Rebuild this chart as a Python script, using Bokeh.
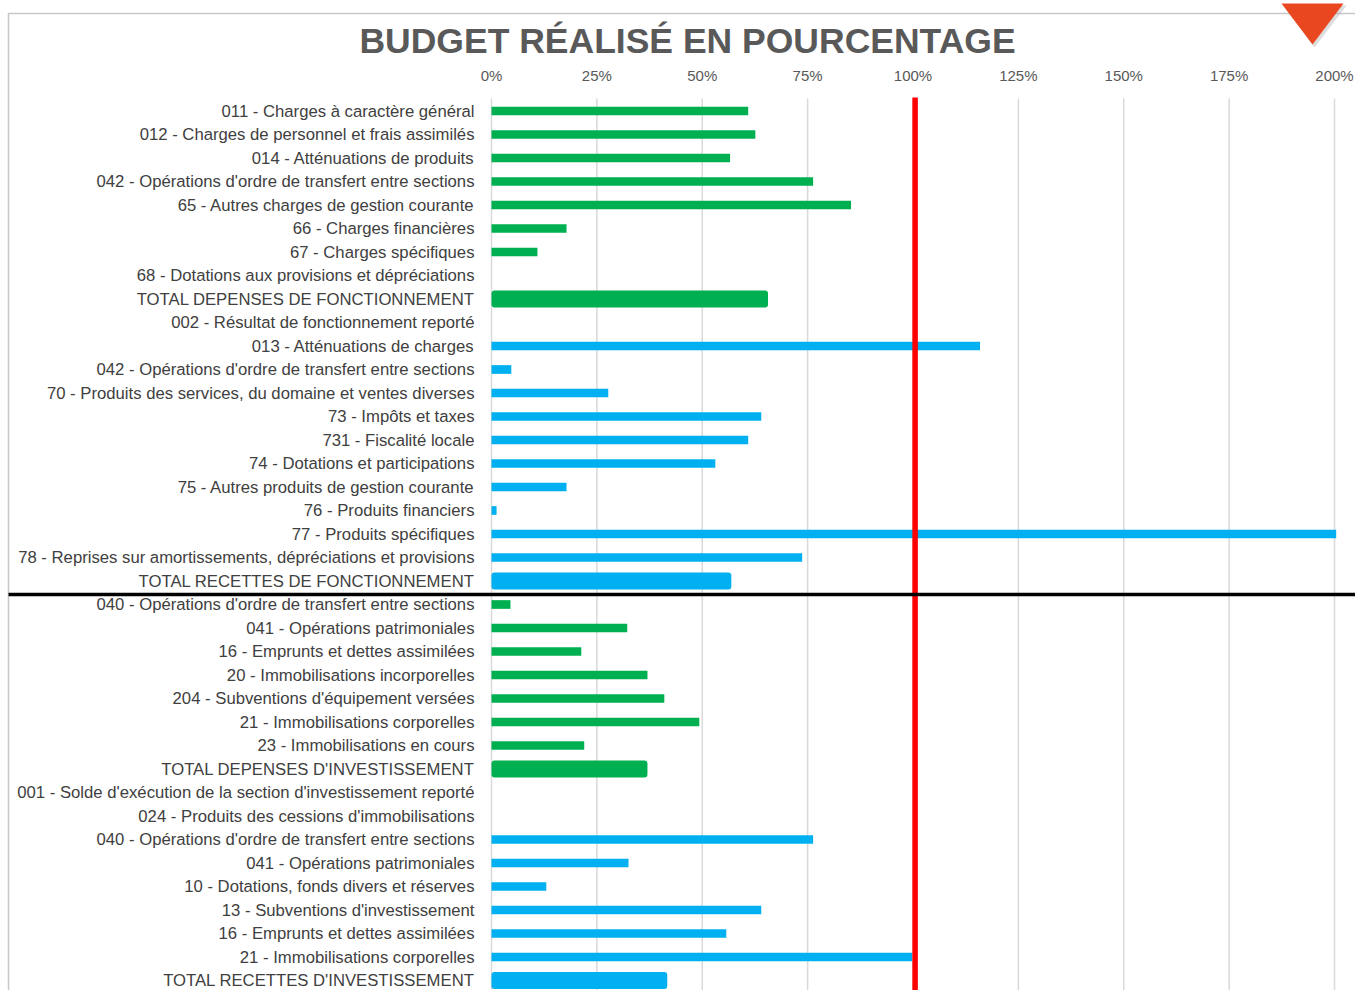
from bokeh.plotting import figure
from bokeh.models import (Range1d, FixedTicker, PrintfTickFormatter, LinearAxis,
                          BoxAnnotation, PolyAnnotation, Label, ColumnDataSource)
from bokeh.embed import file_html
from bokeh.resources import INLINE

# ---------------- data ----------------
categories = [
    "011 - Charges à caractère général",
    "012 - Charges de personnel et frais assimilés",
    "014 - Atténuations de produits",
    "042 - Opérations d'ordre de transfert entre sections",
    "65 - Autres charges de gestion courante",
    "66 - Charges financières",
    "67 - Charges spécifiques",
    "68 - Dotations aux provisions et dépréciations",
    "TOTAL DEPENSES DE FONCTIONNEMENT",
    "002 - Résultat de fonctionnement reporté",
    "013 - Atténuations de charges",
    "042 - Opérations d'ordre de transfert entre sections",
    "70 - Produits des services, du domaine et ventes diverses",
    "73 - Impôts et taxes",
    "731 - Fiscalité locale",
    "74 - Dotations et participations",
    "75 - Autres produits de gestion courante",
    "76 - Produits financiers",
    "77 - Produits spécifiques",
    "78 - Reprises sur amortissements, dépréciations et provisions",
    "TOTAL RECETTES DE FONCTIONNEMENT",
    "040 - Opérations d'ordre de transfert entre sections",
    "041 - Opérations patrimoniales",
    "16 - Emprunts et dettes assimilées",
    "20 - Immobilisations incorporelles",
    "204 - Subventions d'équipement versées",
    "21 - Immobilisations corporelles",
    "23 - Immobilisations en cours",
    "TOTAL DEPENSES D'INVESTISSEMENT",
    "001 - Solde d'exécution de la section d'investissement reporté",
    "024 - Produits des cessions d'immobilisations",
    "040 - Opérations d'ordre de transfert entre sections",
    "041 - Opérations patrimoniales",
    "10 - Dotations, fonds divers et réserves",
    "13 - Subventions d'investissement",
    "16 - Emprunts et dettes assimilées",
    "21 - Immobilisations corporelles",
    "TOTAL RECETTES D'INVESTISSEMENT",
]

# realised budget, percent
values = [
    60.9, 62.6, 56.6, 76.3, 85.3, 17.8, 10.9, 0.0, 65.6,
    0.0, 115.9, 4.7, 27.7, 64.0, 60.9, 53.1, 17.8, 1.2, 200.4, 73.7, 56.9,
    4.5, 32.2, 21.3, 37.0, 41.0, 49.3, 22.0, 37.0,
    0.0, 0.0, 76.3, 32.5, 13.0, 64.0, 55.7, 99.8, 41.7,
]

# section of each row: dépenses (green) / recettes (blue)
sections = (["Dépenses"] * 9 + ["Recettes"] * 12 +
            ["Dépenses"] * 8 + ["Recettes"] * 9)

x_ticks = [0, 25, 50, 75, 100, 125, 150, 175, 200]
target = 100.5          # 100 % reference line
title_text = "BUDGET RÉALISÉ EN POURCENTAGE"

# ---------------- styles / layout ----------------
section_colors = {"Dépenses": "#00B050", "Recettes": "#00B0F0"}
LABEL_FONT = "Liberation Sans"
W, H = 1355, 990
X0_PX, PX_PER_PCT = 491, 4.215          # pixel of 0 %, pixels per percent
ROW0_PX, PX_PER_ROW = 110.5, 23.5       # pixel of first row, row pitch
TOP_PX = 98                             # top of the bar area

def ydata(px):
    return (px - ROW0_PX) / PX_PER_ROW

rows = list(range(len(categories)))
is_total = [c.startswith("TOTAL") for c in categories]
colors = [section_colors[s] for s in sections]

reg = ColumnDataSource(dict(
    y=[r for r, t in zip(rows, is_total) if not t],
    v=[v for v, t in zip(values, is_total) if not t],
    c=[c for c, t in zip(colors, is_total) if not t]))
tot = ColumnDataSource(dict(
    y=[r for r, t in zip(rows, is_total) if t],
    v=[v for v, t in zip(values, is_total) if t],
    c=[c for c, t in zip(colors, is_total) if t]))

p = figure(width=W, height=H, output_backend="svg", toolbar_location=None,
           x_range=Range1d(-X0_PX / PX_PER_PCT, (W - X0_PX) / PX_PER_PCT),
           y_range=Range1d(ydata(H), ydata(0)),
           x_axis_type=None, y_axis_type=None, min_border=0)
p.outline_line_color = None
p.background_fill_color = "white"
p.border_fill_color = "white"
bar_top = ydata(TOP_PX)

# grid lines (only over the bar area)
p.xgrid.visible = False
p.ygrid.visible = False
p.segment(x0=x_ticks, y0=[bar_top] * len(x_ticks), x1=x_ticks, y1=[ydata(H + 5)] * len(x_ticks),
          line_color="#D9D9D9", line_width=1.5)

# x axis (top), placed inside the canvas
xa = LinearAxis(fixed_location=bar_top,
                ticker=FixedTicker(ticks=x_ticks),
                formatter=PrintfTickFormatter(format="%d%%"))
xa.axis_line_color = None
xa.major_tick_line_color = None
xa.minor_tick_line_color = None
xa.major_tick_in = 0
xa.major_tick_out = 0
xa.minor_tick_in = 0
xa.minor_tick_out = 0
xa.major_label_text_font = "Liberation Sans"
xa.major_label_text_font_size = "15px"
xa.major_label_text_color = "#595959"
xa.major_label_standoff = 15
p.add_layout(xa, "above")

# y axis (categories), placed at 0 %
ya = LinearAxis(fixed_location=0, ticker=FixedTicker(ticks=rows))
ya.major_label_overrides = {r: c for r, c in zip(rows, categories)}
ya.axis_line_color = None
ya.major_tick_line_color = None
ya.minor_tick_line_color = None
ya.major_tick_in = 0
ya.major_tick_out = 0
ya.minor_tick_in = 0
ya.minor_tick_out = 0
ya.major_label_text_font = LABEL_FONT
ya.major_label_text_font_size = "16.7px"
ya.major_label_text_color = "#404040"
ya.major_label_standoff = 17
p.add_layout(ya, "left")

# bars
p.hbar(y="y", left=0, right="v", height=0.37, fill_color="c", line_color=None, source=reg)
p.hbar(y="y", left=0, right="v", height=0.72, fill_color="c", line_color=None,
       border_radius=3, source=tot)

# 100% line
p.segment(x0=[target], y0=[ydata(TOP_PX - 1)], x1=[target], y1=[ydata(H + 5)],
          line_color="#FF0000", line_width=5.5)

# separator between fonctionnement / investissement
p.add_layout(BoxAnnotation(left=8, left_units="canvas",
                           top=ydata(592.3), bottom=ydata(595.8),
                           fill_color="black", fill_alpha=1, line_color=None))

# chart border (top + left)
p.add_layout(BoxAnnotation(left=8, top=13, right=W + 50, bottom=H + 50,
                           left_units="canvas", top_units="canvas",
                           right_units="canvas", bottom_units="canvas",
                           fill_color=None, fill_alpha=0, line_color="#4A4A4A",
                           line_width=1.5))

# decorative triangle (with soft shadow)
p.add_layout(PolyAnnotation(xs=[1283, 1346, 1314], ys=[5, 5, 47],
                            xs_units="canvas", ys_units="canvas",
                            fill_color="#9E9E9E", fill_alpha=0.35, line_color=None))
p.add_layout(PolyAnnotation(xs=[1281, 1343, 1312], ys=[3, 3, 44],
                            xs_units="canvas", ys_units="canvas",
                            fill_color="#E8471F", fill_alpha=1, line_color=None))

# title
p.add_layout(Label(x=687, y=40, x_units="canvas", y_units="canvas", text=title_text,
                   text_align="center", text_baseline="alphabetic",
                   text_font="Liberation Sans", text_font_size="35.5px",
                   text_font_style="bold", text_color="#595959"))

open("out.html", "w").write(file_html(p, INLINE))
